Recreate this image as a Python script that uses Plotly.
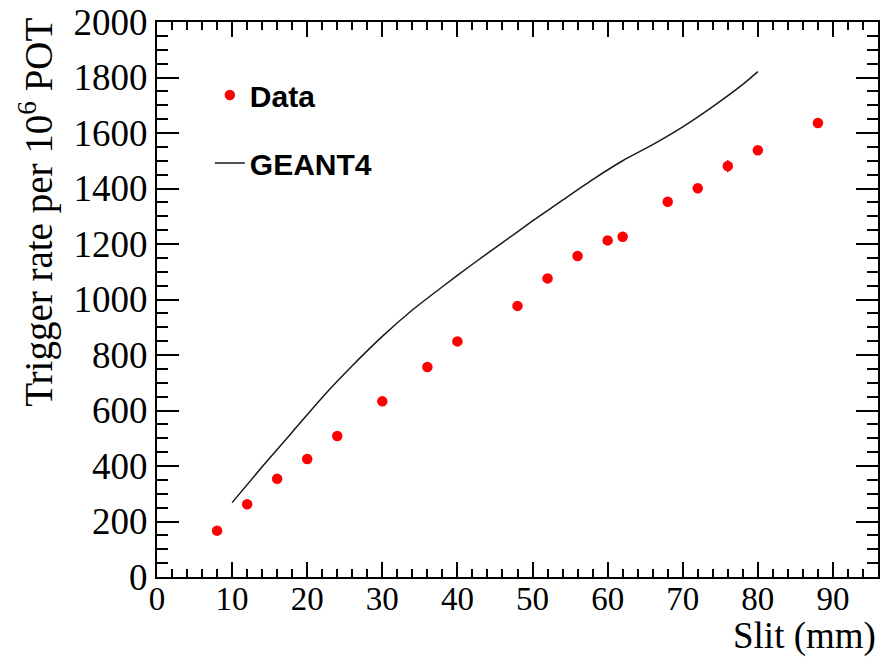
import plotly.graph_objects as go

# Data points (Slit in mm, trigger rate per 1e6 POT)
data_x = [8, 12, 16, 20, 24, 30, 36, 40, 48, 52, 56, 60, 62, 68, 72, 76, 80, 88]
data_y = [167, 262, 354, 425, 508, 633, 757, 849, 977, 1076, 1157, 1213, 1226, 1352, 1401, 1481, 1538, 1636]
data_err = [6, 6, 6, 6, 6, 7, 7, 7, 8, 8, 8, 9, 18, 9, 9, 22, 9, 9]

# GEANT4 simulation curve
g4_x = [10, 14, 18, 22, 26, 30, 34, 38, 42, 46, 50, 54, 58, 62, 66, 70, 74, 78, 80]
g4_y = [268, 397, 522, 647, 761, 867, 962, 1046, 1127, 1205, 1283, 1358, 1432, 1500, 1558, 1622, 1695, 1775, 1821]

x_tickvals = [0, 10, 20, 30, 40, 50, 60, 70, 80, 90]
y_tickvals = [0, 200, 400, 600, 800, 1000, 1200, 1400, 1600, 1800, 2000]

W, H = 882, 660
L, R, T, B = 157, 2, 22, 83
pw = W - L - R
ph = H - T - B

fig = go.Figure()
fig.add_trace(go.Scatter(
    x=data_x, y=data_y, mode="markers", name="Data", legendgroup="a",
    marker=dict(color="#ff0000", size=10.5, line=dict(width=0)),
    error_y=dict(type="data", array=data_err, color="#ff0000", thickness=1.5, width=0),
))
fig.add_trace(go.Scatter(
    x=g4_x, y=g4_y, mode="lines", name="GEANT4", legendgroup="b",
    line=dict(color="#1a1a1a", width=1.5, shape="spline", smoothing=0.6),
))

axis_common = dict(
    showgrid=False, zeroline=False, showline=True, linecolor="black", linewidth=2,
    ticks="inside", tickcolor="black", tickwidth=1.5, mirror="allticks",
)
fig.update_xaxes(
    range=[0, 96], tickvals=x_tickvals, ticklen=15, ticklabelstandoff=-9,
    tickfont=dict(family="Liberation Serif", size=33, color="black"),
    minor=dict(ticks="inside", dtick=2, ticklen=8, tickcolor="black", tickwidth=1.5, showgrid=False),
    **axis_common,
)
fig.update_yaxes(
    range=[0, 2000], tickvals=y_tickvals, ticklen=22,
    tickfont=dict(family="Liberation Serif", size=37, color="black"),
    minor=dict(ticks="inside", dtick=50, ticklen=11, tickcolor="black", tickwidth=1.5, showgrid=False),
    **axis_common,
)

fig.add_annotation(
    text="Slit (mm)", xref="paper", yref="paper",
    x=(880 - L) / pw, y=-(659 - (T + ph)) / ph,
    xanchor="right", yanchor="bottom", showarrow=False,
    font=dict(family="Liberation Serif", size=37, color="black"),
)
fig.add_annotation(
    text="Trigger rate per 10<sup>6</sup> POT", xref="paper", yref="paper",
    x=(36 - L) / pw, y=1 + 6 / ph, textangle=-90,
    xanchor="center", yanchor="top", showarrow=False,
    font=dict(family="Liberation Serif", size=39, color="black"),
)

fig.update_layout(
    width=W, height=H,
    margin=dict(l=L, r=R, t=T, b=B),
    paper_bgcolor="white", plot_bgcolor="white",
    showlegend=True,
    legend=dict(
        x=(210 - L) / pw, y=1 - (69 - T) / ph, xanchor="left", yanchor="top",
        font=dict(family="Liberation Sans", size=30, color="black", weight="bold"),
        bgcolor="rgba(0,0,0,0)", borderwidth=0, tracegroupgap=26,
    ),
)

fig.write_html("out.html")
